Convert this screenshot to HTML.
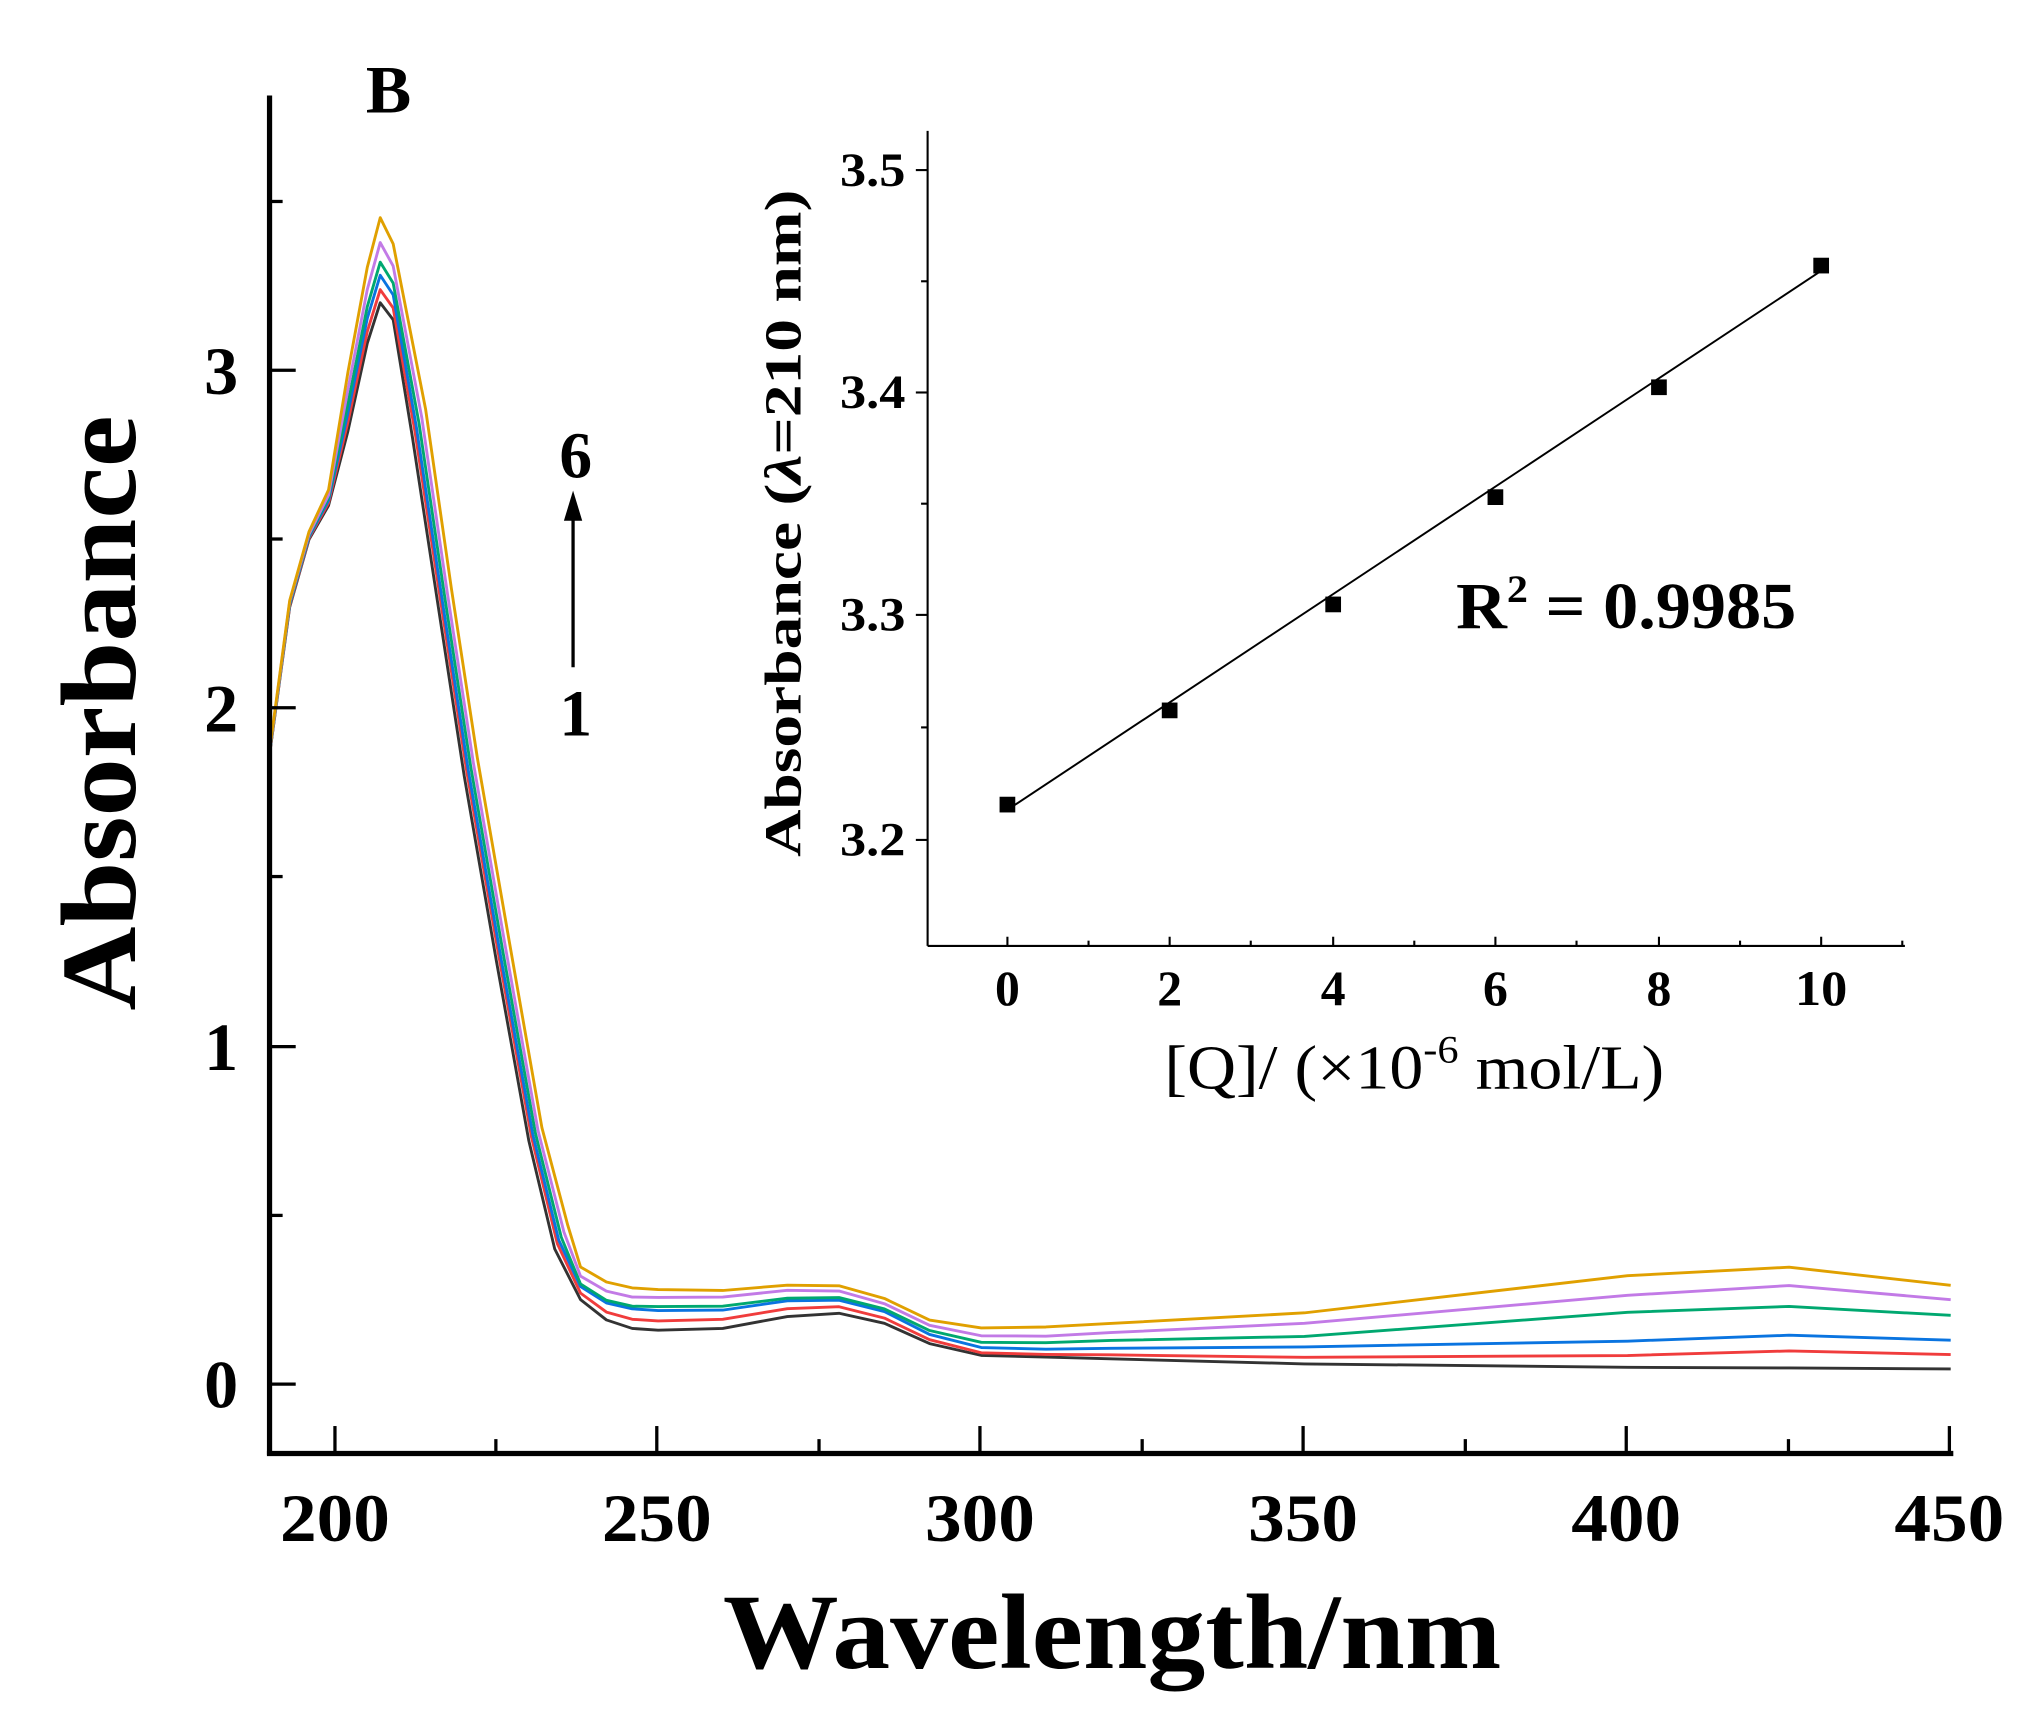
<!DOCTYPE html>
<html><head><meta charset="utf-8"><style>html,body{margin:0;padding:0;background:#fff}svg{display:block}</style></head>
<body>
<svg width="2041" height="1717" viewBox="0 0 1560 1312.4" xmlns="http://www.w3.org/2000/svg" font-family="'Liberation Serif',serif" font-weight="bold">
<rect width="1560" height="1312.4" fill="#fff"/>
<g fill="none" stroke-width="2.2" stroke-linejoin="round">
<polyline stroke="#333" points="206.6,572.4 221.4,464 236.2,412.3 251.1,386.4 265.9,329.6 280.7,262.4 290.6,231.4 300.5,244.4 315.3,334.8 335,463.9 354.8,593.1 379.5,735.1 404.2,872 424,954.7 443.7,993.4 463.5,1008.9 483.2,1015.4 503,1016.7 552.4,1015.4 601.8,1006.3 641.3,1003.8 676,1011.5 710.5,1027 750,1036 799.4,1037.3 848.8,1038.6 997,1042.5 1244,1045.1 1367.5,1045.6 1491,1046.4"/>
<polyline stroke="#f03c3c" points="206.6,572.4 221.4,463 236.2,411.3 251.1,384.4 265.9,322.6 280.7,253.4 290.6,221.4 300.5,235.4 317.3,330.8 337,460.9 356.8,590.1 381.5,732.1 406.2,869 426,950.7 443.7,988.4 463.5,1002.9 483.2,1008.4 503,1009.7 552.4,1008.4 601.8,1000.3 641.3,998.8 676,1007.5 710.5,1024 750,1034 799.4,1035.3 848.8,1035.6 997,1037.5 1244,1036.1 1367.5,1032.6 1491,1035.4"/>
<polyline stroke="#0a74e0" points="206.6,571.4 221.4,462 236.2,410.3 251.1,382.4 265.9,315.6 280.7,243.4 290.6,210.4 300.5,225.4 318.3,326.8 338,458.9 357.8,588.1 382.5,730.1 407.2,867 427,947.7 443.7,983.4 463.5,995.9 483.2,1000.4 503,1001.7 552.4,1001.4 601.8,994.3 641.3,993.8 676,1002.5 710.5,1020 750,1030 799.4,1031.3 848.8,1030.6 997,1029.5 1244,1025.1 1367.5,1020.6 1491,1024.4"/>
<polyline stroke="#00a870" points="206.6,571.4 221.4,461 236.2,409.3 251.1,380.4 265.9,308.6 280.7,234.4 290.6,200.4 300.5,216.4 320.3,323.8 340,456.9 359.8,586.1 384.5,728.1 409.2,866 429,945.7 443.7,981.4 463.5,993.9 483.2,998.4 503,998.7 552.4,998.4 601.8,992.3 641.3,991.8 676,1000.5 710.5,1017 750,1026 799.4,1026.3 848.8,1024.6 997,1021.5 1244,1003.1 1367.5,998.6 1491,1005.4"/>
<polyline stroke="#c27ae6" points="206.6,570.4 221.4,460 236.2,408.3 251.1,378.4 265.9,297.6 280.7,221.4 290.6,185.4 300.5,203.4 322.3,318.8 342,453.9 361.8,583.1 386.5,725.1 411.2,864 431,941.7 443.7,975.4 463.5,986.9 483.2,991.4 503,991.7 552.4,991.4 601.8,986.3 641.3,986.8 676,996.5 710.5,1013 750,1021 799.4,1021.3 848.8,1018.6 997,1011.5 1244,990.1 1367.5,982.6 1491,993.4"/>
<polyline stroke="#e0a000" points="206.6,569.4 221.4,459 236.2,406.3 251.1,374.4 265.9,284.6 280.7,204.4 290.6,166.4 300.5,186.4 325.3,312.8 345,449.9 364.8,579.1 389.5,721.1 414.2,862 434,936.7 443.7,968.4 463.5,979.9 483.2,984.4 503,985.7 552.4,986.4 601.8,982.3 641.3,982.8 676,992.5 710.5,1009 750,1015 799.4,1014.3 848.8,1011.6 997,1003.5 1244,975.1 1367.5,968.6 1491,982.4"/>
</g>
<line x1="206" y1="73" x2="206" y2="1112" stroke="#000" stroke-width="4"/>
<line x1="204" y1="1111" x2="1493" y2="1111" stroke="#000" stroke-width="4"/>
<g stroke="#000" stroke-width="2.5">
<line x1="206" y1="1058" x2="226" y2="1058"/><line x1="206" y1="800" x2="226" y2="800"/><line x1="206" y1="541" x2="226" y2="541"/><line x1="206" y1="283" x2="226" y2="283"/>
<line x1="206" y1="929" x2="216" y2="929"/><line x1="206" y1="670" x2="216" y2="670"/><line x1="206" y1="412" x2="216" y2="412"/><line x1="206" y1="154" x2="216" y2="154"/>
<line x1="256" y1="1111" x2="256" y2="1090"/><line x1="502" y1="1111" x2="502" y2="1090"/><line x1="749" y1="1111" x2="749" y2="1090"/><line x1="996" y1="1111" x2="996" y2="1090"/><line x1="1243" y1="1111" x2="1243" y2="1090"/><line x1="1490" y1="1111" x2="1490" y2="1090"/>
<line x1="379" y1="1111" x2="379" y2="1100"/><line x1="626" y1="1111" x2="626" y2="1100"/><line x1="873" y1="1111" x2="873" y2="1100"/><line x1="1120" y1="1111" x2="1120" y2="1100"/><line x1="1367" y1="1111" x2="1367" y2="1100"/>
</g>
<g font-size="52" text-anchor="middle">
<text x="169" y="1076">0</text><text x="169" y="818">1</text><text x="169" y="559">2</text><text x="169" y="301">3</text>
<text x="256" y="1178" textLength="84" lengthAdjust="spacingAndGlyphs">200</text>
<text x="502" y="1178" textLength="84" lengthAdjust="spacingAndGlyphs">250</text>
<text x="749" y="1178" textLength="84" lengthAdjust="spacingAndGlyphs">300</text>
<text x="996" y="1178" textLength="84" lengthAdjust="spacingAndGlyphs">350</text>
<text x="1243" y="1178" textLength="84" lengthAdjust="spacingAndGlyphs">400</text>
<text x="1490" y="1178" textLength="84" lengthAdjust="spacingAndGlyphs">450</text>
</g>
<text x="850" y="1275" font-size="82" text-anchor="middle" textLength="595" lengthAdjust="spacingAndGlyphs">Wavelength/nm</text>
<text transform="translate(103,545) rotate(-90)" font-size="82" text-anchor="middle" textLength="455" lengthAdjust="spacingAndGlyphs">Absorbance</text>
<text x="297" y="86" font-size="52" text-anchor="middle">B</text>
<text x="440" y="365" font-size="50" text-anchor="middle">6</text>
<text x="440" y="562" font-size="50" text-anchor="middle">1</text>
<line x1="438" y1="510" x2="438" y2="395" stroke="#000" stroke-width="2.5"/>
<polygon points="438,375 431,398 445,398" fill="#000"/>
<g stroke="#000" stroke-width="1.6">
<line x1="709" y1="100" x2="709" y2="723"/><line x1="709" y1="723" x2="1456" y2="723"/>
<line x1="709" y1="130" x2="700" y2="130"/><line x1="709" y1="300" x2="700" y2="300"/><line x1="709" y1="470" x2="700" y2="470"/><line x1="709" y1="642" x2="700" y2="642"/>
<line x1="709" y1="215" x2="704" y2="215"/><line x1="709" y1="385" x2="704" y2="385"/><line x1="709" y1="556" x2="704" y2="556"/>
<line x1="770" y1="723" x2="770" y2="716"/><line x1="894" y1="723" x2="894" y2="716"/><line x1="1019" y1="723" x2="1019" y2="716"/><line x1="1143" y1="723" x2="1143" y2="716"/><line x1="1268" y1="723" x2="1268" y2="716"/><line x1="1392" y1="723" x2="1392" y2="716"/>
<line x1="832" y1="723" x2="832" y2="719"/><line x1="956" y1="723" x2="956" y2="719"/><line x1="1081" y1="723" x2="1081" y2="719"/><line x1="1205" y1="723" x2="1205" y2="719"/><line x1="1330" y1="723" x2="1330" y2="719"/><line x1="1454" y1="723" x2="1454" y2="719"/>
<line x1="770" y1="619" x2="1392" y2="207" stroke-width="1.5"/>
</g>
<g fill="#000">
<rect x="764" y="609" width="12" height="12"/><rect x="888" y="537" width="12" height="12"/><rect x="1013" y="456" width="12" height="12"/><rect x="1137" y="374" width="12" height="12"/><rect x="1262" y="290" width="12" height="12"/><rect x="1386" y="197" width="12" height="12"/>
</g>
<g font-size="36" text-anchor="end">
<text x="692" y="142" textLength="50" lengthAdjust="spacingAndGlyphs">3.5</text>
<text x="692" y="312" textLength="50" lengthAdjust="spacingAndGlyphs">3.4</text>
<text x="692" y="482" textLength="50" lengthAdjust="spacingAndGlyphs">3.3</text>
<text x="692" y="654" textLength="50" lengthAdjust="spacingAndGlyphs">3.2</text>
</g>
<g font-size="38" text-anchor="middle">
<text x="770" y="768">0</text><text x="894" y="768">2</text><text x="1019" y="768">4</text><text x="1143" y="768">6</text><text x="1268" y="768">8</text><text x="1392" y="768" textLength="40" lengthAdjust="spacingAndGlyphs">10</text>
</g>
<text transform="translate(612,400) rotate(-90)" font-size="40" text-anchor="middle" textLength="510" lengthAdjust="spacingAndGlyphs">Absorbance (<tspan font-style="italic">λ</tspan>=210 nm)</text>
<text x="890" y="832" font-size="48" font-weight="normal" textLength="382" lengthAdjust="spacingAndGlyphs">[Q]/ (×10<tspan font-size="30" dy="-20">-6</tspan><tspan dy="20"> mol/L)</tspan></text>
<text x="1113" y="480" font-size="50" textLength="260" lengthAdjust="spacingAndGlyphs">R<tspan font-size="30" dy="-20">2</tspan><tspan dy="20"> = 0.9985</tspan></text>
</svg>
</body></html>
